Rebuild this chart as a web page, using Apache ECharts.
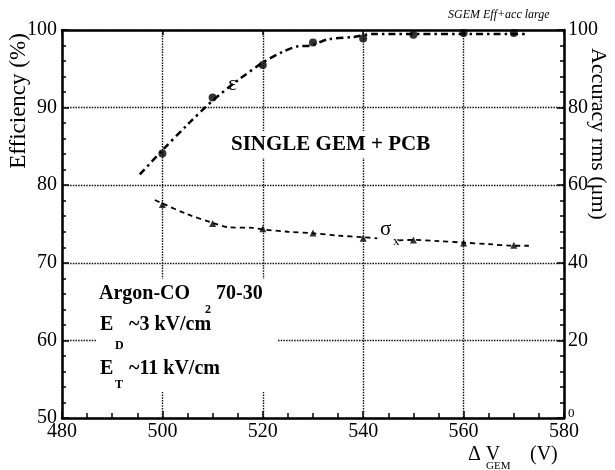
<!DOCTYPE html>
<html><head><meta charset="utf-8">
<script src="https://cdn.jsdelivr.net/npm/echarts@6/dist/echarts.min.js"></script>
<style>html,body{margin:0;padding:0;background:#fff}#c{width:615px;height:470px}</style>
</head><body><div id="c"></div>
<script>
// ---- data ----
const effVoltages = [500, 510, 520, 530, 540, 550, 560, 570];
const efficiency = [84.1, 91.3, 95.5, 98.4, 98.9, 99.4, 99.6, 99.6];
const sigmaVoltages = [500, 510, 520, 530, 540, 550, 560, 570];
const sigmaRms = [55.0, 50.1, 48.8, 47.7, 46.3, 45.9, 45.1, 44.5];
// fitted curves as drawn in the reference
const effFitV = [495.5, 500, 505, 510, 515, 520, 524, 527, 529.5, 533, 538, 542, 572.7];
const effFit = [81.4, 84.5, 87.8, 90.9, 93.5, 95.8, 97.2, 97.9, 98.0, 98.8, 99.1, 99.5, 99.5];
const sigFitV1 = [498.5, 500, 505, 510, 513, 518, 520, 525, 530, 535, 540, 542.8];
const sigFit1 = [56.2, 55.3, 52.5, 50.3, 49.2, 49.0, 48.6, 48.0, 47.6, 47.0, 46.6, 46.3];
const sigFitV2 = [547, 550, 555, 560, 565, 570, 573];
const sigFit2 = [45.8, 45.9, 45.6, 45.2, 44.8, 44.4, 44.4];
const xTicks = [480, 500, 520, 540, 560, 580];
const effTicks = [50, 60, 70, 80, 90, 100];
const rmsTicks = [0, 20, 40, 60, 80, 100];

const zip = (a, b) => a.map((v, i) => [v, b[i]]);
const SERIF = '"Liberation Serif", "Times New Roman", serif';
const grid = { left: 62, right: 51, top: 30, bottom: 52 };

const axisLine = { show: true, onZero: false, lineStyle: { color: '#000', width: 2.5 } };
const tick = { show: true, inside: true, length: 7, lineStyle: { color: '#000', width: 1.5 } };
const minor = (n, len) => ({ show: true, splitNumber: n, length: len, lineStyle: { color: '#000', width: 1.5 } });
const gridLine = { show: true, lineStyle: { color: '#111', width: 1.4, type: [1.5, 1.2] } };
const lbl = { color: '#000', fontSize: 20, fontFamily: SERIF };

function txt(text, x, y, font, opts) {
  return Object.assign({
    type: 'text', x: x, y: y, z: 10,
    style: Object.assign({ text: text, font: font, fill: '#000', textAlign: 'left', textVerticalAlign: 'middle' }, (opts && opts.style) || {})
  }, (opts && opts.el) || {});
}

const chart = echarts.init(document.getElementById('c'), null, { renderer: 'canvas' });
chart.setOption({
  backgroundColor: '#fff',
  animation: false,
  grid: grid,
  xAxis: [{
    type: 'value', position: 'bottom',
    min: xTicks[0], max: xTicks[xTicks.length - 1], interval: xTicks[1] - xTicks[0],
    axisLine: axisLine, axisTick: tick, minorTick: minor(4, 5),
    axisLabel: Object.assign({ margin: 4 }, lbl),
    splitLine: gridLine
  }, {
    type: 'value', position: 'top',
    min: xTicks[0], max: xTicks[xTicks.length - 1], interval: xTicks[1] - xTicks[0],
    axisLine: axisLine, axisTick: { show: true, inside: true, length: 5, lineStyle: { color: '#000', width: 1.5 } },
    axisLabel: { show: false }, splitLine: { show: false }
  }],
  yAxis: [{
    type: 'value', position: 'left',
    min: effTicks[0], max: effTicks[effTicks.length - 1], interval: effTicks[1] - effTicks[0],
    axisLine: axisLine, axisTick: tick, minorTick: minor(5, 4),
    axisLabel: Object.assign({ margin: 5 }, lbl),
    splitLine: gridLine
  }, {
    type: 'value', position: 'right',
    min: rmsTicks[0], max: rmsTicks[rmsTicks.length - 1], interval: rmsTicks[1] - rmsTicks[0],
    axisLine: axisLine, axisTick: tick, minorTick: minor(5, 4),
    axisLabel: Object.assign({ margin: 4,
      formatter: v => v === 0 ? '{s|0}' : String(v),
      rich: { s: { fontSize: 13, fontFamily: SERIF, color: '#000', padding: [0, 0, 8, 0] } } }, lbl),
    splitLine: { show: false }
  }],
  series: [
    { type: 'line', name: 'eff fit', xAxisIndex: 0, yAxisIndex: 0, data: zip(effFitV, effFit),
      smooth: 0.3, showSymbol: false, z: 3,
      lineStyle: { color: '#000', width: 2.5, type: [7, 4, 2.5, 4] } },
    { type: 'scatter', name: 'efficiency', xAxisIndex: 0, yAxisIndex: 0, data: zip(effVoltages, efficiency),
      symbol: 'circle', symbolSize: 8, itemStyle: { color: '#000' }, z: 4 },
    { type: 'line', name: 'sigma fit a', xAxisIndex: 0, yAxisIndex: 1, data: zip(sigFitV1, sigFit1),
      smooth: 0.3, showSymbol: false, z: 3,
      lineStyle: { color: '#000', width: 1.8, type: [5, 4] } },
    { type: 'line', name: 'sigma fit b', xAxisIndex: 0, yAxisIndex: 1, data: zip(sigFitV2, sigFit2),
      smooth: 0.3, showSymbol: false, z: 3,
      lineStyle: { color: '#000', width: 1.8, type: [5, 4] } },
    { type: 'scatter', name: 'sigma', xAxisIndex: 0, yAxisIndex: 1, data: zip(sigmaVoltages, sigmaRms),
      symbol: 'triangle', symbolSize: 7, itemStyle: { color: '#000' }, z: 4 }
  ],
  graphic: [
    { type: 'rect', z: 1, shape: { x: 97, y: 279, width: 181, height: 113 }, style: { fill: '#fff' } },
    { type: 'rect', z: 1, shape: { x: 224, y: 131, width: 222, height: 27 }, style: { fill: '#fff' } },
    txt('SINGLE GEM + PCB', 231, 145, 'bold 21px ' + SERIF),
    txt('ε', 228, 84, '21px ' + SERIF),
    txt('σ', 380, 229, '21px ' + SERIF),
    txt('x', 393, 242, '13px ' + SERIF),
    txt('Argon-CO', 99, 294, 'bold 20px ' + SERIF),
    txt('2', 205, 310, 'bold 12px ' + SERIF),
    txt('70-30', 216, 294, 'bold 20px ' + SERIF),
    txt('E', 100, 325, 'bold 20px ' + SERIF),
    txt('D', 115, 346, 'bold 12px ' + SERIF),
    txt('~3 kV/cm', 129, 325, 'bold 20px ' + SERIF),
    txt('E', 100, 369, 'bold 20px ' + SERIF),
    txt('T', 115, 385, 'bold 12px ' + SERIF),
    txt('~11 kV/cm', 129, 369, 'bold 20px ' + SERIF),
    txt('SGEM Eff+acc large', 448, 15, 'italic 12px ' + SERIF),
    txt('Δ V', 468, 455, '20px ' + SERIF),
    txt('GEM', 486, 466, '11px ' + SERIF),
    txt('(V)', 530, 455, '20px ' + SERIF),
    txt('Efficiency (%)', 19, 101, '23px ' + SERIF,
      { el: { rotation: Math.PI / 2 }, style: { textAlign: 'center' } }),
    txt('Accuracy rms (μm)', 598, 134, '22px ' + SERIF,
      { el: { rotation: -Math.PI / 2 }, style: { textAlign: 'center' } })
  ]
});
</script></body></html>
